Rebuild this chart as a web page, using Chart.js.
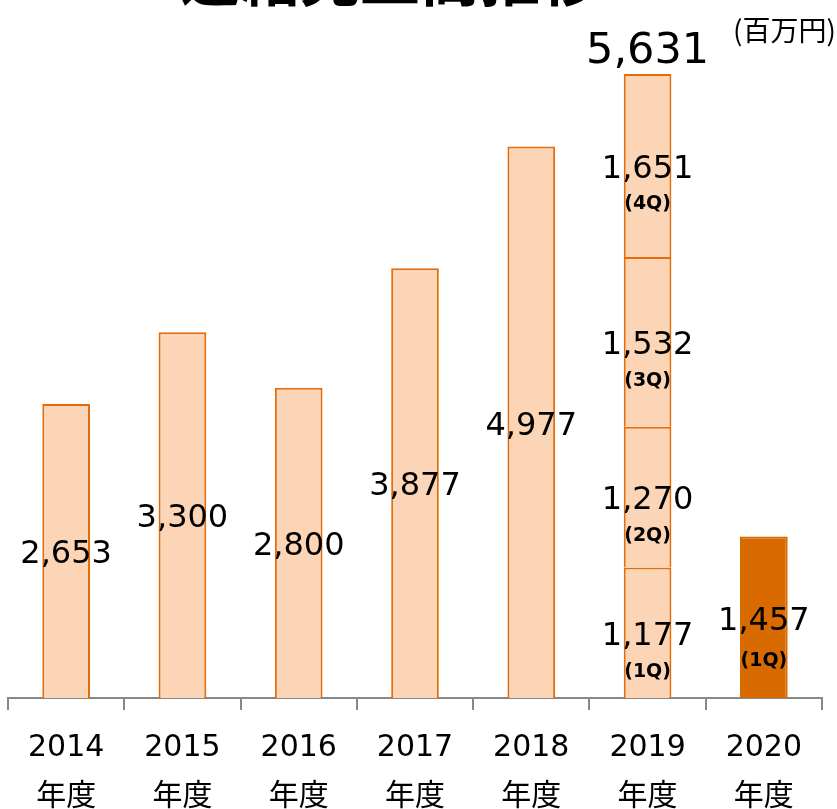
<!DOCTYPE html>
<html lang="ja">
<head>
<meta charset="utf-8">
<title>連結売上高推移</title>
<script src="https://cdn.jsdelivr.net/npm/chart.js@4.4.1/dist/chart.umd.min.js"></script>
<style>
  html, body { margin: 0; padding: 0; background: #fff; }
  #wrap { width: 837px; height: 809px; position: relative; }
</style>
</head>
<body>
<div id="wrap"><canvas id="salesChart"></canvas></div>
<script>
// データ（百万円）
const categories = ['2014', '2015', '2016', '2017', '2018', '2019', '2020'];
const annualSales = [2653, 3300, 2800, 3877, 4977, null, null];
const q1Sales = [null, null, null, null, null, 1177, 1457];
const q2Sales = [null, null, null, null, null, 1270, null];
const q3Sales = [null, null, null, null, null, 1532, null];
const q4Sales = [null, null, null, null, null, 1651, null];
const quarterNames = ['(1Q)', '(2Q)', '(3Q)', '(4Q)'];
const totalSales = [null, null, null, null, null, 5631, null];

const lightFill = '#FBD5B5';
const orangeLine = '#E46C0A';
const darkFill = '#D86A00';
const numFont = '"DejaVu Sans", "Noto Sans CJK JP", sans-serif';

const fmt = v => v.toLocaleString('en-US');

// 2020年度（当期）だけ濃い色
const q1Colors = categories.map((c, i) => i === 6 ? darkFill : lightFill);
const q1Borders = categories.map((c, i) => i === 6 ? darkFill : orangeLine);

// 棒の中に数値を描くプラグイン
const labelPlugin = {
  id: 'barLabels',
  afterDatasetsDraw(chart) {
    const ctx = chart.ctx;
    ctx.save();
    ctx.fillStyle = '#000';
    ctx.textAlign = 'center';
    ctx.textBaseline = 'middle';

    chart.data.datasets.forEach((ds, di) => {
      const meta = chart.getDatasetMeta(di);
      meta.data.forEach((bar, i) => {
        const v = ds.data[i];
        if (v == null) return;
        const mid = (bar.y + bar.base) / 2;
        ctx.font = '32px ' + numFont;
        if (ds.quarter) {
          // 2020年度は間隔が少し広い
          const gap = i === 6 ? 44 : 39;
          ctx.fillText(fmt(v), bar.x, mid + 4);
          ctx.font = 'bold 19px ' + numFont;
          ctx.fillText(ds.quarter, bar.x, mid + gap);
        } else {
          ctx.fillText(fmt(v), bar.x, mid + 4);
        }
      });
    });

    // 合計
    const lastMeta = chart.getDatasetMeta(chart.data.datasets.length - 1);
    totalSales.forEach((t, i) => {
      if (t == null) return;
      const bar = lastMeta.data[i];
      ctx.font = '43px ' + numFont;
      ctx.fillText(fmt(t), bar.x, bar.y - 22);
    });

    // 単位
    ctx.font = '28px "Noto Sans CJK JP", sans-serif';
    ctx.textAlign = 'right';
    ctx.fillText('(百万円)', 836, 30);

    // タイトル（上端で切れている）
    ctx.font = 'bold 60px "Noto Sans CJK JP", sans-serif';
    ctx.textAlign = 'center';
    ctx.textBaseline = 'alphabetic';
    ctx.fillText('連結売上高推移', 390, 1);
    ctx.restore();
  }
};

const barStyle = { borderWidth: 2, borderSkipped: 'start' };

const ctx = document.getElementById('salesChart').getContext('2d');
const salesChart = new Chart(ctx, {
  type: 'bar',
  data: {
    labels: categories.map(c => [c, '年度']),
    datasets: [
      { label: '年度売上', data: annualSales, backgroundColor: lightFill, borderColor: orangeLine, ...barStyle },
      { label: '1Q', quarter: quarterNames[0], data: q1Sales, backgroundColor: q1Colors, borderColor: q1Borders, ...barStyle },
      { label: '2Q', quarter: quarterNames[1], data: q2Sales, backgroundColor: lightFill, borderColor: orangeLine, ...barStyle },
      { label: '3Q', quarter: quarterNames[2], data: q3Sales, backgroundColor: lightFill, borderColor: orangeLine, ...barStyle },
      { label: '4Q', quarter: quarterNames[3], data: q4Sales, backgroundColor: lightFill, borderColor: orangeLine, ...barStyle }
    ]
  },
  options: {
    responsive: true,
    maintainAspectRatio: false,
    animation: false,
    layout: { padding: { top: 33, left: 8, right: 15, bottom: 0 } },
    datasets: {
      bar: {
        categoryPercentage: 1,
        barPercentage: 0.41,
        grouped: false
      }
    },
    plugins: {
      legend: { display: false },
      tooltip: { enabled: false }
    },
    scales: {
      x: {
        stacked: true,
        grid: { drawOnChartArea: false, tickLength: 12, color: '#888', lineWidth: 2 },
        border: { display: true, color: '#888', width: 2 },
        ticks: {
          color: '#000',
          padding: 13,
          font: { size: 30, family: numFont, lineHeight: 1.65 },
          maxRotation: 0
        },
        afterFit(scale) { scale.height = 111; }
      },
      y: {
        stacked: true,
        display: false,
        min: 0,
        max: 6000
      }
    }
  },
  plugins: [labelPlugin]
});
</script>
</body>
</html>
